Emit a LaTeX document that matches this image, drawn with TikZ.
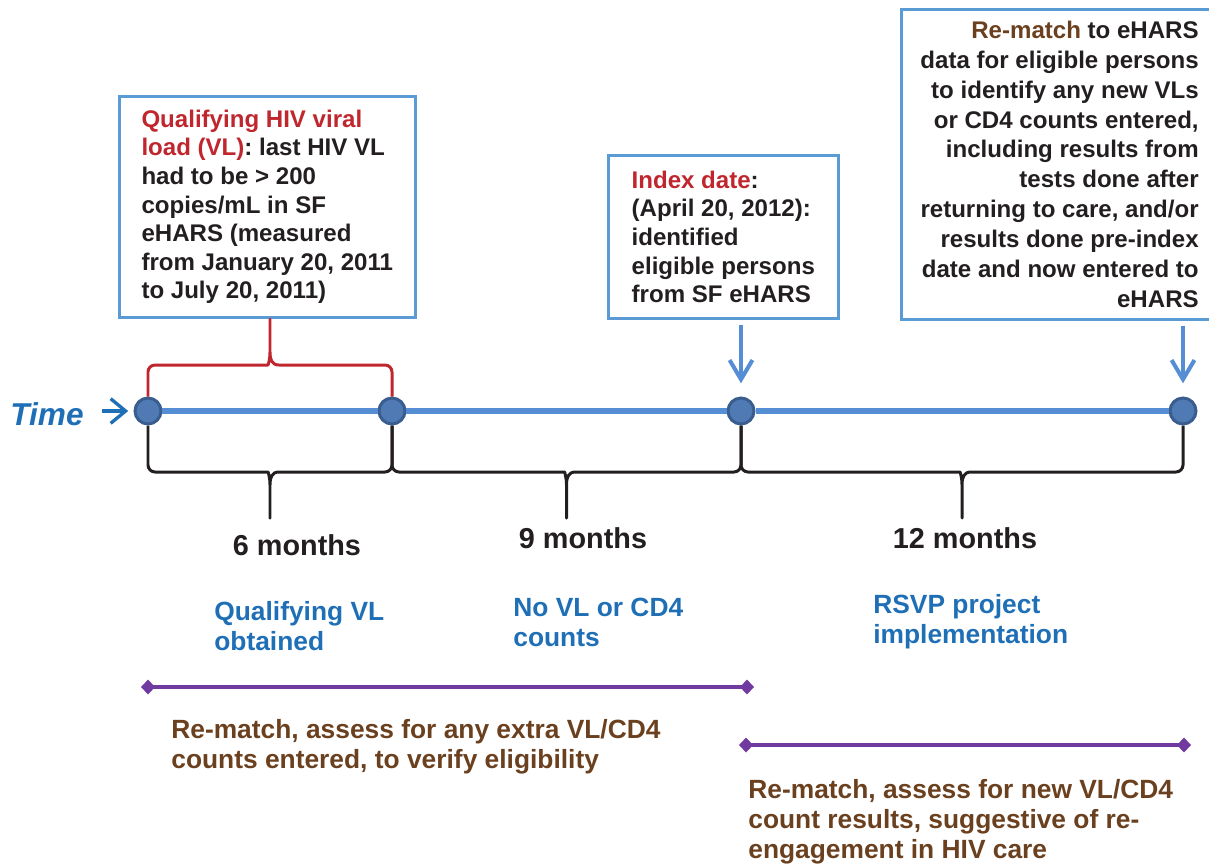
\documentclass[tikz,border=0pt]{standalone}
\usepackage{fontspec}
\setmainfont{Liberation Sans}
\usetikzlibrary{arrows.meta,calc}

\definecolor{boxblue}{RGB}{91,155,213}
\definecolor{lineblue}{RGB}{85,142,213}
\definecolor{textblue}{RGB}{31,111,182}
\definecolor{dotfill}{RGB}{79,122,179}
\definecolor{dotedge}{RGB}{56,93,142}
\definecolor{hivred}{RGB}{192,38,45}
\definecolor{rmbrown}{RGB}{107,64,31}
\definecolor{spanpurple}{RGB}{112,58,160}
\definecolor{inkblack}{RGB}{35,31,32}

\tikzset{
  lowbrace/.style={line width=1.7pt, line join=round, to path={
    (\tikztostart.south) [rounded corners=4pt] |- ($(\tikztostart)!.5!(\tikztotarget)+(-9,61)$) [sharp corners]
    .. controls +(7,0) and +(0,-8) .. ++(9,13) -- ++(0,33) -- ++(0,-33)
    .. controls +(0,-8) and +(-7,0) .. ++(9,-13) [rounded corners=4pt] -| (\tikztotarget.south)}},
  highbrace/.style={line width=1.7pt, line join=round, to path={
    (\tikztostart.north) [rounded corners=4pt] |- ($(\tikztostart)!.5!(\tikztotarget)+(-9,-46)$) [sharp corners]
    .. controls +(7,0) and +(0,8) .. ++(9,-13) -- ++(0,-33) -- ++(0,33)
    .. controls +(0,8) and +(-7,0) .. ++(9,13) [rounded corners=4pt] -| (\tikztotarget.north)}},
}

\begin{document}
\begin{tikzpicture}[x=0.02cm, y=-0.02cm, font=\bfseries, text=inkblack]
\useasboundingbox (0,0) rectangle (1209,867);

\begin{scope}[every node/.style={circle, fill=dotfill, draw=dotedge, line width=1.7pt,
                                 minimum size=0.52cm, inner sep=0pt}]
    \node (t1) at (148,411) {};
    \node (t2) at (392,411) {};
    \node (t3) at (741,411) {};
    \node (t4) at (1183,411) {};
\end{scope}

\begin{scope}[every node/.style={draw=boxblue, line width=1.5pt, inner sep=0pt,
                                 font=\fontsize{13.7}{16.3}\selectfont\bfseries}]
    \node[anchor=north west, align=left, minimum width=5.92cm, minimum height=4.42cm] (qual) at (118,95)
        {\textcolor{hivred}{Qualifying HIV viral}\\
         \textcolor{hivred}{load (VL)}: last HIV VL\\
         had to be > 200\\
         copies/mL in SF\\
         eHARS (measured\\
         from January 20, 2011\\
         to July 20, 2011)};
    \node[anchor=north west, align=left, minimum width=4.6cm, minimum height=3.26cm] (idx) at (607,154)
        {\textcolor{hivred}{Index date}:\\
         (April 20, 2012):\\
         identified\\
         eligible persons\\
         from SF eHARS};
    \node[anchor=north east, align=right, inner xsep=0.38cm, minimum height=6.2cm,
          font=\fontsize{13.7}{17}\selectfont\bfseries] (rem) at (1219,8)
        {\textcolor{rmbrown}{Re-match} to eHARS\\
         data for eligible persons\\
         to identify any new VLs\\
         or CD4 counts entered,\\
         including results from\\
         tests done after\\
         returning to care, and/or\\
         results done pre-index\\
         date and now entered to\\
         eHARS};
\end{scope}

\node[anchor=base west, text=textblue, font=\fontsize{18}{20}\selectfont\bfseries\itshape, inner sep=0pt] (time) at (10,425) {Time};

\begin{scope}[every node/.style={anchor=base, inner sep=0pt, font=\fontsize{16.4}{19}\selectfont\bfseries}]
    \node (m6) at (297,555) {6 months};
    \node (m9) at (583,548) {9 months};
    \node (m12) at (965,548) {12 months};
\end{scope}

\begin{scope}[every node/.style={anchor=north west, align=left, inner sep=0pt,
                                 font=\fontsize{15}{17}\selectfont\bfseries}]
    \node[text=textblue] (ph1) at (214,601) {Qualifying VL\\obtained};
    \node[text=textblue] (ph2) at (513,598) {No VL or CD4\\counts};
    \node[text=textblue] (ph3) at (873,594) {RSVP project\\implementation};
    \node[text=rmbrown] (rm1) at (171,719) {Re-match, assess for any extra VL/CD4\\counts entered, to verify eligibility};
    \node[text=rmbrown] (rm2) at (748,779) {Re-match, assess for new VL/CD4\\count results, suggestive of re-\\engagement in HIV care};
\end{scope}

\coordinate (s1a) at (141,687);
\coordinate (s1b) at (754,687);
\coordinate (s2a) at (739,745);
\coordinate (s2b) at (1191,745);

\draw[lineblue, line width=3pt] (t1) -- (t2) -- (t3) -- (t4);
\draw[hivred, highbrace] (t1) to (t2);
\draw[inkblack, lowbrace] (t1) to (t2);
\draw[inkblack, lowbrace] (t2) to (t3);
\draw[inkblack, lowbrace] (t3) to (t4);

\begin{scope}[lineblue, line width=2.3pt, -{Straight Barb[length=11pt, width=13pt]}]
    \draw[shorten <=2.8pt, shorten >=7.5pt] (idx.south -| t3) -- (t3.north);
    \draw[shorten <=2.8pt, shorten >=7.5pt] (rem.south -| t4) -- (t4.north);
\end{scope}
\draw[textblue, line width=1.9pt, shorten <=10pt, shorten >=3pt, -{Straight Barb[length=8.5pt, width=14pt]}]
    (time.east |- t1) -- (t1.west);

\begin{scope}[spanpurple, line width=2.8pt, {Diamond[length=8pt, width=8.5pt]}-{Diamond[length=8pt, width=8.5pt]}]
    \draw (s1a) -- (s1b);
    \draw (s2a) -- (s2b);
\end{scope}
\end{tikzpicture}
\end{document}
